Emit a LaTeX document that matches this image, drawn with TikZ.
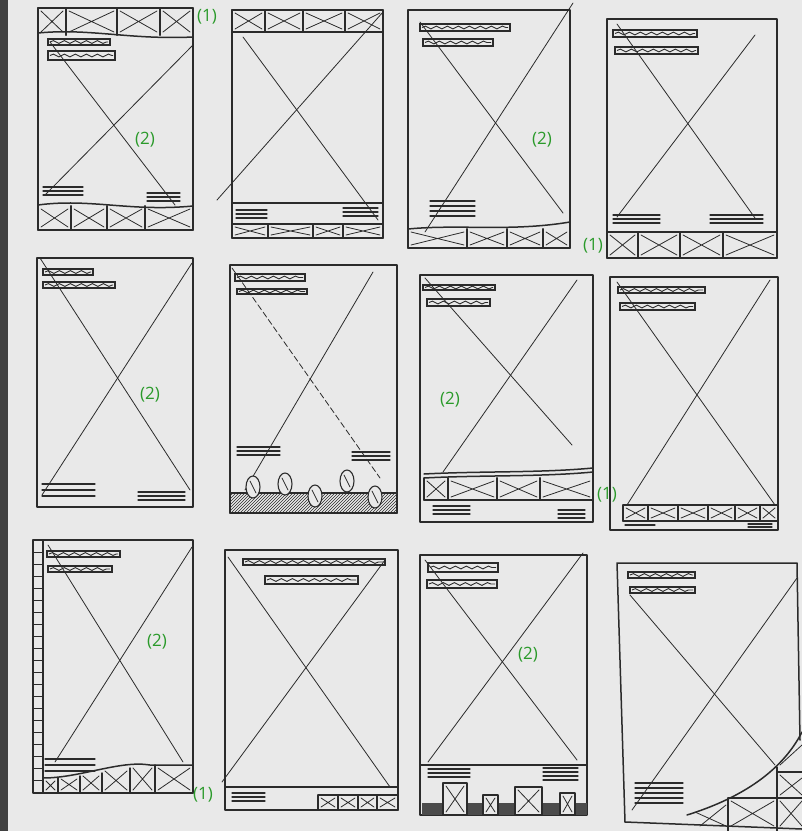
\documentclass[tikz,border=0pt]{standalone}
\usepackage{fontspec}
\newfontfamily\labfont{Open Sans}
\usetikzlibrary{decorations.pathmorphing,patterns}
\definecolor{ink}{HTML}{2B2B2B}
\definecolor{paper}{HTML}{E9E9E9}
\definecolor{grn}{HTML}{2A9A2A}
\tikzset{
  frame/.style={draw=ink,line width=1.5pt,line cap=round,line join=round},
  xl/.style={draw=ink,line width=0.8pt,line cap=round},
  thinl/.style={draw=ink,line width=1.1pt,line cap=round},
  tbar/.style={draw=ink,line width=1.1pt},
  wave/.style={draw=ink,line width=0.9pt,decorate,decoration={snake,amplitude=1.4pt,segment length=11pt}},
  lab/.style={text=grn,font=\labfont\fontsize{17}{19}\selectfont,inner sep=0pt}
}
\newcommand\wfbar[4]{\draw[tbar] (#1,#2) rectangle (#3,#4);
  \draw[wave] (#1+2,{(#2+#4)/2}) -- (#3-2,{(#2+#4)/2});}
\newcommand\wflines[5]{\foreach \i in {1,...,#4}{\draw[thinl] (#1,{#3+(\i-1)*#5}) -- (#2,{#3+(\i-1)*#5});}}
\newcommand\wfrow[3]{%
  \foreach \a/\b in {#3}{\draw[frame] (\a,#1) -- (\a,#2) (\b,#1) -- (\b,#2);
    \draw[xl] (\a+3,#1+3) -- (\b-3,#2-3) (\a+3,#2-3) -- (\b-3,#1+3);}}
\begin{document}
\begin{tikzpicture}[x=1pt,y=-1pt]
\useasboundingbox (0,0) rectangle (802,831);
\fill[paper] (0,0) rectangle (802,831);
\fill[ink!90] (0,0) rectangle (8,831);

% ---------- Frame 1
\draw[frame] (38,8) rectangle (193,230);
\wfrow{8}{35}{38/66,66/117,117/160,160/193}
\draw[frame] (38,33) .. controls (90,28) and (130,40) .. (193,37);
\wfbar{48}{39}{110}{45}
\wfbar{48}{51}{115}{60}
\draw[xl] (50,42) -- (175,205);
\draw[xl] (193,45) -- (45,195);
\wflines{43}{83}{187}{3}{4}
\wflines{147}{180}{193}{3}{4}
\draw[frame] (38,205) .. controls (90,198) and (130,212) .. (193,206);
\wfrow{206}{230}{38/71,71/107,107/145,145/193}
\node[lab] (f1b) at (145,140) {(2)};
\node[lab] (f1a) at (207,17) {(1)};

% ---------- Frame 2
\draw[frame] (232,10) rectangle (383,238);
\draw[frame] (232,32) -- (383,32);
\wfrow{10}{32}{232/265,265/303,303/345,345/383}
\draw[xl] (243,37) -- (378,220);
\draw[xl] (383,12) -- (217,200);
\draw[frame] (232,203) -- (383,203);
\wflines{236}{267}{210}{3}{4}
\wflines{343}{378}{208}{3}{4}
\draw[frame] (232,224) -- (383,224);
\wfrow{224}{238}{232/268,268/313,313/343,343/383}

% ---------- Frame 3
\draw[frame] (408,10) rectangle (570,248);
\wfbar{420}{24}{510}{31}
\wfbar{423}{39}{493}{46}
\draw[xl] (420,22) -- (563,213);
\draw[xl] (573,3) -- (425,232);
\wflines{430}{475}{201}{4}{5}
\draw[frame] (408,229) .. controls (460,224) and (510,232) .. (570,222);
\wfrow{229}{248}{408/467,467/507,507/543,543/570}
\node[lab] (f3b) at (542,140) {(2)};
\node[lab] (f3a) at (593,246) {(1)};

% ---------- Frame 4
\draw[frame] (607,19) rectangle (777,258);
\wfbar{613}{30}{697}{37}
\wfbar{615}{47}{698}{54}
\draw[xl] (617,24) -- (755,218);
\draw[xl] (755,35) -- (617,217);
\wflines{613}{660}{215}{3}{4}
\wflines{710}{763}{215}{3}{4}
\draw[frame] (607,232) -- (777,232);
\wfrow{232}{258}{607/638,638/680,680/723,723/777}

% ---------- Frame 5
\draw[frame] (37,258) rectangle (193,507);
\wfbar{43}{269}{93}{275}
\wfbar{43}{282}{115}{288}
\draw[xl] (40,258) -- (190,490);
\draw[xl] (192,263) -- (42,495);
\wflines{42}{95}{484}{3}{6}
\wflines{138}{185}{492}{3}{4}
\node[lab] (f5b) at (150,395) {(2)};

% ---------- Frame 6
\draw[frame] (230,265) rectangle (397,513);
\wfbar{235}{274}{305}{281}
\wfbar{237}{289}{307}{294}
\draw[xl,dash pattern=on 6pt off 3pt] (232,268) -- (380,478);
\draw[xl] (373,272) -- (245,490);
\wflines{237}{280}{447}{3}{4}
\wflines{352}{390}{452}{3}{4}
\draw[frame,pattern=north east lines,pattern color=ink] (230,493) rectangle (397,513);
\foreach \cx/\cy in {253/487,285/484,315/496,347/481,375/497}{
  \draw[frame,fill=paper,line width=1.1pt] (\cx,\cy) ellipse [x radius=7pt,y radius=11pt];
  \draw[xl] (\cx-3,\cy-6) -- (\cx+3,\cy+6);}

% ---------- Frame 7
\draw[frame] (420,275) rectangle (593,522);
\wfbar{423}{285}{495}{290}
\wfbar{427}{299}{490}{306}
\draw[xl] (425,278) -- (572,445);
\draw[xl] (577,280) -- (443,472);
\draw[frame] (424,474) .. controls (480,471) and (540,473) .. (593,468);
\draw[frame] (424,478) .. controls (480,475) and (540,477) .. (593,472);
\wfrow{478}{500}{424/448,448/497,497/540,540/593}
\draw[frame] (424,500) -- (593,500);
\wflines{433}{470}{506}{3}{4}
\wflines{558}{585}{510}{3}{4}
\node[lab] (f7b) at (450,400) {(2)};
\node[lab] (f7a) at (607,495) {(1)};

% ---------- Frame 8
\draw[frame] (610,277) rectangle (778,530);
\wfbar{618}{287}{705}{293}
\wfbar{620}{303}{695}{310}
\draw[xl] (617,282) -- (775,505);
\draw[xl] (770,280) -- (627,505);
\draw[frame] (623,505) -- (778,505);
\draw[frame] (623,521) -- (778,521);
\wfrow{505}{521}{623/648,648/678,678/708,708/735,735/760,760/778}
\wflines{625}{655}{525}{1}{4}
\wflines{748}{772}{524}{2}{3}

% ---------- Frame 9
\draw[frame] (33,540) rectangle (193,793);
\draw[frame] (43,540) -- (43,793);
\foreach \t in {552,564,...,784}{\draw[xl] (34,\t) -- (42,\t);}
\wfbar{47}{551}{120}{557}
\wfbar{48}{566}{112}{572}
\draw[xl] (48,545) -- (183,762);
\draw[xl] (192,547) -- (55,762);
\wflines{45}{95}{759}{3}{6}
\draw[frame] (43,778) .. controls (80,778) and (120,760) .. (150,765) -- (193,765);
\foreach \a/\b/\t in {43/58/778,58/80/776,80/102/773,102/130/768,130/155/765,155/193/765}{
  \draw[frame] (\b,\t) -- (\b,793);
  \draw[xl] (\a+3,\t+3) -- (\b-3,790) (\a+3,790) -- (\b-3,\t+3);}
\node[lab] (f9b) at (157,642) {(2)};
\node[lab] (f9a) at (203,795) {(1)};

% ---------- Frame 10
\draw[frame] (225,550) rectangle (398,810);
\wfbar{243}{559}{385}{565}
\wfbar{265}{576}{358}{584}
\draw[xl] (228,557) -- (390,787);
\draw[xl] (385,560) -- (222,782);
\draw[frame] (225,787) -- (398,787);
\wflines{232}{265}{793}{3}{4}
\draw[frame] (318,795) -- (398,795);
\wfrow{795}{810}{318/338,338/358,358/377,377/398}

% ---------- Frame 11
\draw[frame] (420,555) rectangle (587,815);
\wfbar{428}{563}{498}{572}
\wfbar{427}{580}{497}{588}
\draw[xl] (425,560) -- (577,760);
\draw[xl] (583,553) -- (428,762);
\draw[frame] (420,765) -- (587,765);
\wflines{428}{470}{769}{3}{4}
\wflines{543}{578}{768}{4}{4}
\fill[ink!85] (422,803) rectangle (587,815);
\foreach \a/\t/\b in {443/783/467,483/795/498,515/787/542,560/793/575}{
  \draw[frame,fill=paper] (\a,\t) rectangle (\b,815);
  \draw[xl] (\a+3,\t+3) -- (\b-3,812) (\a+3,812) -- (\b-3,\t+3);}
\node[lab] (f11b) at (528,655) {(2)};

% ---------- Frame 12
\draw[frame] (625,822) -- (617,563) -- (797,563) -- (800,740);
\draw[frame] (625,822) -- (802,829);
\wfbar{628}{572}{695}{578}
\wfbar{630}{587}{695}{593}
\draw[xl] (630,595) -- (775,765);
\draw[xl] (797,578) -- (632,810);
\wflines{635}{683}{783}{5}{5}
\draw[frame] (687,815) .. controls (735,800) and (780,775) .. (802,732);
\draw[frame] (777,767) -- (777,831);
\draw[frame] (728,798) -- (728,831);
\draw[frame] (728,798) -- (802,798);
\draw[frame] (777,772) -- (802,772);
\draw[xl] (695,812) -- (726,826) (700,826) -- (726,805);
\draw[xl] (731,801) -- (774,826) (731,826) -- (774,801);
\draw[xl] (780,775) -- (802,795) (780,795) -- (802,778);
\draw[xl] (780,801) -- (802,826) (780,826) -- (802,801);
\draw[xl] (780,765) -- (802,745);
\end{tikzpicture}
\end{document}
